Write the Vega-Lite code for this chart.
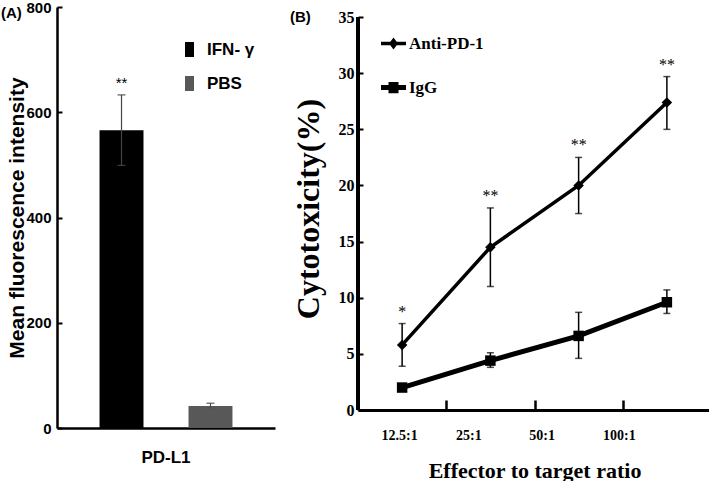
{
  "$schema": "https://vega.github.io/schema/vega-lite/v6.json",
  "padding": {"left": 0, "top": 0, "right": 0, "bottom": 0},
  "spacing": 15,
  "resolve": {"scale": {"color": "independent", "shape": "independent"}, "legend": {"color": "independent", "shape": "independent"}},
  "config": {
    "view": {"stroke": null},
    "axis": {"labelColor": "black", "titleColor": "black", "domainColor": "black", "tickColor": "black", "grid": false},
    "legend": {"labelColor": "black"}
  },
  "hconcat": [
    {
      "width": 218,
      "height": 421,
      "title": {"text": "(A)", "anchor": "start", "frame": "bounds", "offset": -18, "dx": -6, "dy": 3, "fontSize": 15, "font": "Liberation Sans", "fontWeight": "bold", "color": "black"},
      "data": {"values": [
        {"marker": "PD-L1", "group": "IFN- γ", "mfi": 566, "lo": 499, "hi": 633, "sig": "**"},
        {"marker": "PD-L1", "group": "PBS", "mfi": 42, "lo": 37, "hi": 47, "sig": ""}
      ]},
      "encoding": {
        "x": {"field": "marker", "type": "nominal", "scale": {"type": "band", "paddingInner": 0, "paddingOuter": 0},
          "axis": {"title": null, "labelAngle": 0, "ticks": false, "labelPadding": 21, "labelFont": "Liberation Sans", "labelFontSize": 17, "labelFontWeight": "bold", "domainWidth": 2.5}},
        "xOffset": {"field": "group", "type": "nominal", "sort": ["IFN- γ", "PBS"], "scale": {"paddingInner": 0.506, "paddingOuter": 0.478}}
      },
      "layer": [
        {
          "mark": {"type": "bar"},
          "encoding": {
            "y": {"field": "mfi", "type": "quantitative", "scale": {"domain": [0, 800], "nice": false},
              "axis": {"title": "Mean fluorescence intensity", "values": [0, 200, 400, 600, 800], "tickSize": -5, "tickWidth": 2, "labelPadding": 11, "labelFont": "Liberation Sans", "labelFontSize": 15, "labelFontWeight": "bold", "domainWidth": 2.5, "titleFont": "Liberation Sans", "titleFontSize": 21, "titleFontWeight": "bold", "titlePadding": -2}},
            "color": {"field": "group", "type": "nominal", "scale": {"domain": ["IFN- γ", "PBS"], "range": ["#000000", "#585858"]},
              "legend": {"title": null, "orient": "none", "legendX": 124, "legendY": 34, "symbolType": "M-0.6,-1H0.6V1H-0.6Z", "symbolSize": 225, "symbolStrokeWidth": 0, "labelFont": "Liberation Sans", "labelFontSize": 17, "labelFontWeight": "bold", "rowPadding": 16, "labelOffset": 9}}
          }
        },
        {
          "mark": {"type": "rule", "color": "#444444", "strokeWidth": 1.2},
          "encoding": {"y": {"field": "lo", "type": "quantitative"}, "y2": {"field": "hi"}}
        },
        {
          "mark": {"type": "tick", "color": "#444444", "thickness": 1.5, "size": 8},
          "encoding": {"y": {"field": "hi", "type": "quantitative"}}
        },
        {
          "mark": {"type": "tick", "color": "#555555", "thickness": 1.2, "size": 8},
          "encoding": {"y": {"field": "lo", "type": "quantitative"}}
        },
        {
          "mark": {"type": "text", "font": "Liberation Sans", "fontSize": 15, "dy": -12, "color": "black"},
          "encoding": {"y": {"field": "hi", "type": "quantitative"}, "text": {"field": "sig"}}
        }
      ]
    },
    {
      "width": 353,
      "height": 403,
      "title": {"text": "(B)", "anchor": "start", "frame": "bounds", "offset": -18, "dx": -2, "fontSize": 15, "font": "Liberation Sans", "fontWeight": "bold", "color": "black"},
      "data": {"values": [
        {"ratio": "12.5:1", "series": "Anti-PD-1", "value": 5.8, "lo": 3.9, "hi": 7.7, "sig": "*"},
        {"ratio": "25:1", "series": "Anti-PD-1", "value": 14.5, "lo": 11.0, "hi": 18.0, "sig": "**"},
        {"ratio": "50:1", "series": "Anti-PD-1", "value": 20.0, "lo": 17.5, "hi": 22.5, "sig": "**"},
        {"ratio": "100:1", "series": "Anti-PD-1", "value": 27.4, "lo": 25.0, "hi": 29.7, "sig": "**"},
        {"ratio": "12.5:1", "series": "IgG", "value": 2.0, "lo": 1.7, "hi": 2.3, "sig": ""},
        {"ratio": "25:1", "series": "IgG", "value": 4.4, "lo": 3.8, "hi": 5.1, "sig": ""},
        {"ratio": "50:1", "series": "IgG", "value": 6.6, "lo": 4.6, "hi": 8.7, "sig": ""},
        {"ratio": "100:1", "series": "IgG", "value": 9.6, "lo": 8.6, "hi": 10.7, "sig": ""}
      ]},
      "resolve": {"scale": {"shape": "independent"}, "legend": {"shape": "independent"}},
      "encoding": {
        "x": {"field": "ratio", "type": "ordinal", "sort": ["12.5:1", "25:1", "50:1", "100:1"], "scale": {"type": "band", "paddingInner": 0, "paddingOuter": 0},
          "axis": {"title": "Effector to target ratio", "titleFont": "Liberation Serif", "titleFontSize": 22, "titleFontWeight": "bold", "titlePadding": 18,
            "labelAngle": 0, "labelFont": "Liberation Serif", "labelFontSize": 14, "labelFontWeight": "bold", "labelPadding": 28,
            "tickBand": "extent", "tickSize": -10, "tickWidth": 2.5, "domainWidth": 3,
            "labelOffset": {"condition": [
              {"test": "datum.label == '25:1'", "value": -22},
              {"test": "datum.label == '50:1'", "value": -37},
              {"test": "datum.label == '100:1'", "value": -48}
            ], "value": -3}}}
      },
      "layer": [
        {
          "transform": [{"filter": "datum.series == 'Anti-PD-1'"}],
          "mark": {"type": "line", "color": "black", "strokeWidth": 3.5},
          "encoding": {
            "y": {"field": "value", "type": "quantitative", "scale": {"domain": [0, 35.9], "nice": false},
              "axis": {"title": "Cytotoxicity(%)", "values": [0, 5, 10, 15, 20, 25, 30, 35], "domain": false, "tickSize": -5, "tickWidth": 2, "labelPadding": 9,
                "labelFont": "Liberation Serif", "labelFontSize": 16, "labelFontWeight": "bold",
                "titleFont": "Liberation Serif", "titleFontSize": 32, "titleFontWeight": "bold", "titlePadding": 13}}
          }
        },
        {
          "transform": [{"filter": "datum.series == 'IgG'"}],
          "mark": {"type": "line", "color": "black", "strokeWidth": 5},
          "encoding": {"y": {"field": "value", "type": "quantitative"}}
        },
        {
          "mark": {"type": "point", "filled": true, "color": "black", "opacity": 1, "size": 110},
          "encoding": {
            "y": {"field": "value", "type": "quantitative"},
            "shape": {"field": "series", "type": "nominal", "scale": {"domain": ["Anti-PD-1", "IgG"], "range": ["diamond", "square"]}, "legend": null}
          }
        },
        {
          "mark": {"type": "rule", "color": "black", "strokeWidth": 1.5},
          "encoding": {"y": {"field": "lo", "type": "quantitative"}, "y2": {"field": "hi"}}
        },
        {
          "mark": {"type": "tick", "color": "black", "thickness": 1.5, "size": 7},
          "encoding": {"y": {"field": "hi", "type": "quantitative"}}
        },
        {
          "mark": {"type": "tick", "color": "black", "thickness": 1.5, "size": 7},
          "encoding": {"y": {"field": "lo", "type": "quantitative"}}
        },
        {
          "mark": {"type": "text", "font": "Liberation Serif", "fontSize": 16, "dy": -12, "color": "black"},
          "encoding": {"y": {"field": "hi", "type": "quantitative"}, "text": {"field": "sig"}}
        },
        {
          "mark": {"type": "rule", "color": "black", "strokeWidth": 3},
          "encoding": {"x": {"datum": "12.5:1", "type": "ordinal", "bandPosition": 0}, "y": {"datum": 0}, "y2": {"datum": 35}}
        },
        {
          "transform": [{"filter": "false"}],
          "mark": {"type": "point", "filled": true, "color": "black", "opacity": 1},
          "encoding": {
            "shape": {"field": "series", "type": "nominal", "scale": {"domain": ["Anti-PD-1", "IgG"], "range": ["M-1,-0.14H1V0.14H-1Z M0,-0.48L0.36,0L0,0.48L-0.36,0Z", "M-1,-0.2H1V0.2H-1Z M-0.4,-0.45H0.4V0.45H-0.4Z"]},
              "legend": {"title": null, "orient": "none", "legendX": 23, "legendY": 24, "symbolSize": 625, "symbolStrokeWidth": 0, "symbolFillColor": "black", "symbolOpacity": 1,
                "labelFont": "Liberation Serif", "labelFontSize": 17, "labelFontWeight": "bold", "rowPadding": 23, "labelOffset": 3}}
          }
        }
      ]
    }
  ]
}
